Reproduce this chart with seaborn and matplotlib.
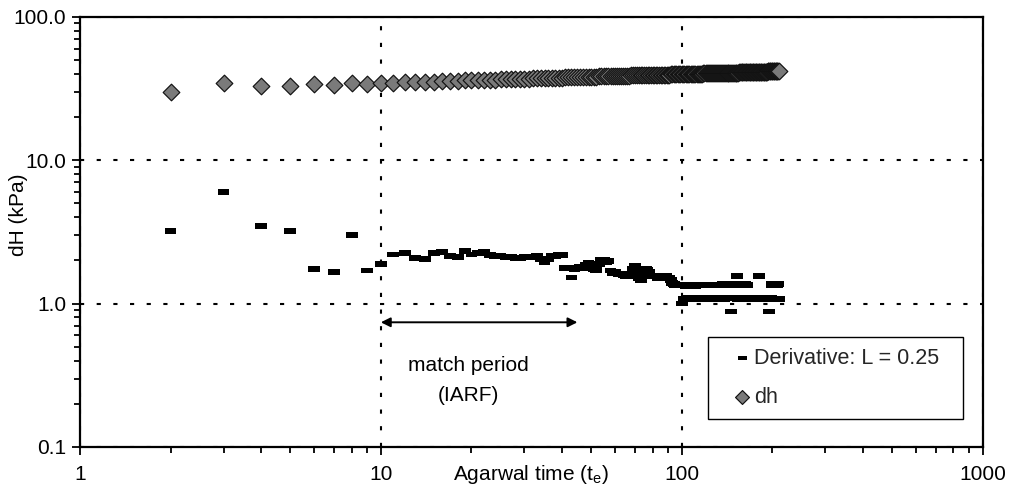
import numpy as np
import pandas as pd
import matplotlib
matplotlib.use("Agg")
import matplotlib.pyplot as plt
import seaborn as sns
from matplotlib.ticker import FixedLocator, FixedFormatter, NullFormatter

# ---------------- data ----------------
times = list(range(2, 211))  # Agarwal time sampling (integer steps)

dh_values = [
    30.0, 34.5, 33.0, 32.8, 34.0, 33.5, 34.3, 34.0, 34.5,
    34.7, 34.9, 35.1, 35.3, 35.4, 35.6, 35.7, 35.8, 36.0,
    36.1, 36.2, 36.3, 36.4, 36.5, 36.6, 36.7, 36.8, 36.9, 37.0,
    37.0, 37.1, 37.2, 37.3, 37.3, 37.4, 37.5, 37.5, 37.6, 37.7,
    37.7, 37.8, 37.8, 37.9, 37.9, 38.0, 38.0, 38.1, 38.1, 38.2,
    38.2, 38.3, 38.3, 38.4, 38.4, 38.5, 38.5, 38.5, 38.6, 38.6,
    38.7, 38.7, 38.7, 38.8, 38.8, 38.9, 38.9, 38.9, 39.0, 39.0,
    39.0, 39.1, 39.1, 39.1, 39.2, 39.2, 39.2, 39.3, 39.3, 39.3,
    39.3, 39.4, 39.4, 39.4, 39.5, 39.5, 39.5, 39.5, 39.6, 39.6,
    39.6, 39.6, 39.7, 39.7, 39.7, 39.7, 39.8, 39.8, 39.8, 39.8,
    39.8, 39.9, 39.9, 39.9, 39.9, 40.0, 40.0, 40.0, 40.0, 40.1,
    40.1, 40.1, 40.1, 40.1, 40.2, 40.2, 40.2, 40.2, 40.3, 40.3,
    40.3, 40.3, 40.3, 40.4, 40.4, 40.4, 40.4, 40.4, 40.5, 40.5,
    40.5, 40.5, 40.5, 40.6, 40.6, 40.6, 40.6, 40.6, 40.7, 40.7,
    40.7, 40.7, 40.7, 40.7, 40.8, 40.8, 40.8, 40.8, 40.8, 40.8,
    40.9, 40.9, 40.9, 40.9, 40.9, 41.0, 41.0, 41.0, 41.0, 41.0,
    41.0, 41.1, 41.1, 41.1, 41.1, 41.1, 41.1, 41.2, 41.2, 41.2,
    41.2, 41.2, 41.2, 41.3, 41.3, 41.3, 41.3, 41.3, 41.3, 41.3,
    41.4, 41.4, 41.4, 41.4, 41.4, 41.4, 41.5, 41.5, 41.5, 41.5,
    41.5, 41.5, 41.5, 41.6, 41.6, 41.6, 41.6, 41.6, 41.6, 41.6,
    41.7, 41.7, 41.7, 41.7, 41.7, 41.7, 41.7, 41.7, 41.7, 41.7,
    41.7,
]

derivative_values = [
    3.2, 6.0, 3.5, 3.2, 1.75, 1.67, 3.0, 1.7, 1.9,
    2.2, 2.25, 2.07, 2.05, 2.25, 2.3, 2.15, 2.1, 2.32, 2.2,
    2.25, 2.28, 2.18, 2.15, 2.14, 2.1, 2.12, 2.07, 2.08, 2.1,
    2.1, 2.12, 2.14, 2.05, 1.95, 2.05, 2.14, 2.16, 2.17, 2.17,
    1.77, 1.76, 1.52, 1.75, 1.78, 1.8, 1.77, 1.85, 1.93, 1.88,
    1.74, 1.72, 1.88, 2.03, 2.0, 1.95, 1.98, 1.7, 1.64, 1.65,
    1.62, 1.6, 1.6, 1.58, 1.56, 1.55, 1.55, 1.6, 1.75, 1.82,
    1.65, 1.5, 1.45, 1.55, 1.7, 1.74, 1.72, 1.65, 1.55, 1.55,
    1.55, 1.55, 1.5, 1.52, 1.55, 1.55, 1.52, 1.55, 1.55, 1.5,
    1.5, 1.45, 1.4, 1.36, 1.35, 1.35, 1.34, 1.35, 1.34, 1.0,
    1.34, 1.07, 1.33, 1.1, 1.34, 1.08, 1.33, 1.1, 1.34, 1.09,
    1.33, 1.1, 1.34, 1.08, 1.35, 1.1, 1.34, 1.09, 1.35, 1.1,
    1.35, 1.08, 1.34, 1.1, 1.35, 1.09, 1.34, 1.1, 1.35, 1.08,
    1.35, 1.1, 1.34, 1.09, 1.35, 1.1, 1.36, 1.08, 1.35, 1.1,
    1.36, 1.09, 1.35, 1.1, 1.36, 0.88, 1.35, 1.1, 1.36, 1.09,
    1.35, 1.1, 1.55, 1.08, 1.36, 1.1, 1.35, 1.09, 1.36, 1.1,
    1.35, 1.08, 1.36, 1.1, 1.34, 1.09, 1.1, 1.07, 1.1, 1.08,
    1.1, 1.09, 1.07, 1.1, 1.08, 1.1, 1.09, 1.07, 1.1, 1.08,
    1.55, 1.09, 1.1, 1.07, 1.1, 1.08, 1.1, 1.09, 1.07, 1.1,
    1.08, 1.1, 1.09, 1.07, 0.88, 1.1, 1.08, 1.09, 1.36, 1.35,
    1.36, 1.35, 1.36, 1.35, 1.36, 1.37, 1.36, 1.35, 1.36, 1.07,
]

x_ticks = [1, 10, 100, 1000]
x_tick_labels = ["1", "10", "100", "1000"]
y_ticks = [0.1, 1, 10, 100]
y_tick_labels = ["0.1", "1.0", "10.0", "100.0"]

series_labels = ["Derivative: L = 0.25", "dh"]
x_label = "Agarwal time (t$_\\mathregular{e}$)"
y_label = "dH (kPa)"
annotation_text = "match period\n(IARF)"
match_period = [10, 45]

# ---------------- plotting ----------------
sns.set_theme(style="white")
plt.rcParams['font.family'] = ['Liberation Sans', 'DejaVu Sans']
plt.rcParams['mathtext.fontset'] = 'custom'
plt.rcParams['mathtext.rm'] = 'Liberation Sans'

df = pd.DataFrame({"t": times, "dh": dh_values, "deriv": derivative_values})

fig, ax = plt.subplots(figsize=(10.12, 4.96), dpi=100)
fig.subplots_adjust(left=0.079, right=0.971, top=0.966, bottom=0.099)

rect = [(-1, -0.5), (1, -0.5), (1, 0.5), (-1, 0.5), (-1, -0.5)]
sns.scatterplot(data=df, x="t", y="deriv", marker=rect, s=72, color="black",
                edgecolor="none", ax=ax, label=series_labels[0], zorder=3)
sns.scatterplot(data=df, x="t", y="dh", marker="D", s=72, color="#7a7a7a",
                edgecolor="#111111", linewidth=0.85, ax=ax, label=series_labels[1], zorder=3)

ax.set_xscale("log")
ax.set_yscale("log")
ax.set_xlim(1, 1000)
ax.set_ylim(0.1, 100)

ax.xaxis.set_major_locator(FixedLocator(x_ticks))
ax.xaxis.set_major_formatter(FixedFormatter(x_tick_labels))
ax.yaxis.set_major_locator(FixedLocator(y_ticks))
ax.yaxis.set_major_formatter(FixedFormatter(y_tick_labels))
ax.xaxis.set_minor_formatter(NullFormatter())
ax.yaxis.set_minor_formatter(NullFormatter())

ax.tick_params(which="both", bottom=True, left=True, top=False, right=False,
               direction="out", color="black", width=1.3)
ax.tick_params(which="major", length=6, labelsize=15, labelcolor="black")
ax.tick_params(which="minor", length=4)
ax.tick_params(axis="x", which="major", pad=7)
ax.tick_params(axis="y", which="major", pad=4)

for sp in ax.spines.values():
    sp.set_visible(True)
    sp.set_color("black")
    sp.set_linewidth(1.6)

ax.grid(True, which="major", color="black", linestyle=(0, (2, 6)), linewidth=1.5)
ax.grid(False, which="minor")

ax.set_xlabel(x_label, fontsize=15, color="black")
ax.set_ylabel(y_label, fontsize=15, color="black")
ax.xaxis.set_label_coords(0.5, -0.037)
ax.yaxis.set_label_coords(-0.058, 0.54)

ax.annotate("", xy=(match_period[0], 0.74), xytext=(match_period[1], 0.74),
            arrowprops=dict(arrowstyle="<|-|>", color="black", lw=1.4,
                            mutation_scale=14, shrinkA=0, shrinkB=0))
ax.text(19.5, 0.29, annotation_text, ha="center", va="center", fontsize=15,
        color="black", linespacing=1.75)

leg = ax.legend(loc="upper left", bbox_to_anchor=(0.6955, 0.05, 0.2824, 0.2058),
                mode="expand", fontsize=15.5,
                frameon=True, fancybox=False, framealpha=1, edgecolor="black",
                handlelength=2.2, handletextpad=-0.55, borderpad=0.5,
                labelspacing=0.85, borderaxespad=0)
leg.get_frame().set_linewidth(1.0)
handles = leg.legend_handles
handles[0].set_sizes([45])
handles[1].set_sizes([50])

fig.savefig("out.png", dpi=100)
